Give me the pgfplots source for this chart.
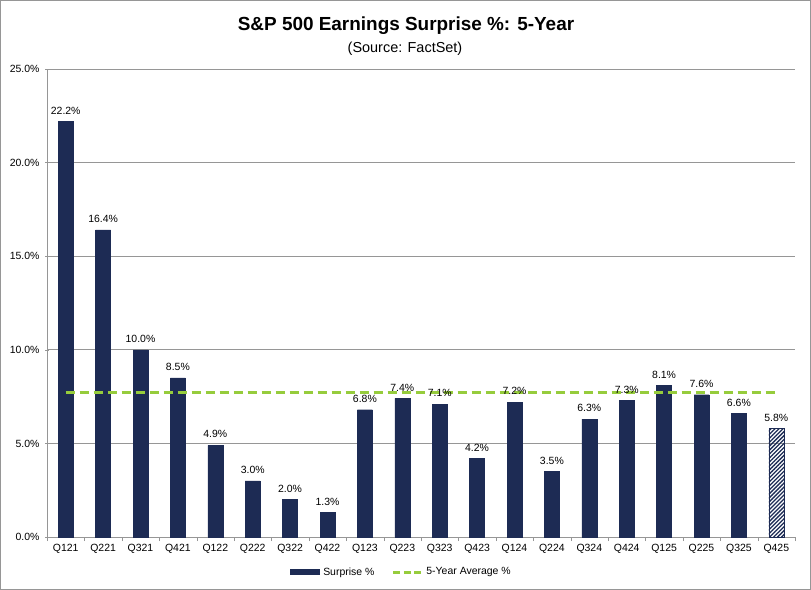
\documentclass[border=0pt]{standalone}
\usepackage{pgfplots}
\pgfplotsset{compat=1.18}
\usepackage{fontspec}
\setmainfont{Liberation Sans}
\usetikzlibrary{patterns.meta}
\definecolor{navy}{RGB}{29,43,84}
\definecolor{lime}{RGB}{150,204,60}
\definecolor{gridc}{RGB}{150,150,150}
\begin{document}
\begin{tikzpicture}
\useasboundingbox (0bp,0bp) rectangle (811bp,590bp);
\draw[gridc, line width=1bp] (0.5bp,0.5bp) rectangle (810.5bp,589.5bp);
\node[font=\fontsize{19}{21}\selectfont\bfseries] at (406bp,564bp) {S\&P 500 Earnings Surprise \%: 5-Year};
\node[font=\fontsize{14.5}{16}\selectfont] at (405bp,541bp) {(Source: FactSet)};
\begin{axis}[
  at={(47bp,53bp)}, anchor=south west,
  scale only axis, width=748bp, height=468bp,
  xmin=-0.5, xmax=19.5, ymin=0, ymax=25,
  ytick={0,5,...,25},
  yticklabel={\pgfmathprintnumber[fixed,fixed zerofill,precision=1]{\tick}\%},
  /pgf/number format/assume math mode=true,
  xtick={0,...,19},
  xticklabels={Q121,Q221,Q321,Q421,Q122,Q222,Q322,Q422,Q123,Q223,Q323,Q423,Q124,Q224,Q324,Q424,Q125,Q225,Q325,Q425},
  xtick style={draw=none},
  extra x ticks={-0.5,0.5,...,19.5},
  extra x tick labels={},
  extra x tick style={grid=none, major tick length=4bp, tick align=outside, xtick style={draw=gridc}},
  ytick style={draw=gridc},
  major tick length=4bp, tick align=outside,
  axis x line=bottom, axis y line=left,
  axis line style={-, gridc},
  ymajorgrids, grid style={gridc, line width=0.8bp},
  tick label style={font=\fontsize{10.5}{12}\selectfont, text=black},
  yticklabel style={xshift=-2bp},
  ybar, bar width=15bp,
  nodes near coords={\pgfmathprintnumber[fixed,fixed zerofill,precision=1]{\pgfplotspointmeta}\%},
  nodes near coords style={font=\fontsize{10.5}{12}\selectfont, anchor=south, inner sep=0pt, yshift=7bp, text=black},
  legend style={at={(0.475,-0.075)}, anchor=center, draw=none, legend columns=2,
    font=\fontsize{10.5}{12}\selectfont,
    /tikz/every even column/.append style={column sep=14bp},
    nodes={inner sep=3.5bp}},
  legend cell align=left,
  clip=false,
]
\addplot[fill=navy, draw=navy, bar shift=0pt,
  legend image code/.code={\fill[navy] (0bp,-2.5bp) rectangle (29bp,2.5bp);}]
  coordinates {(0,22.2) (1,16.4) (2,10.0) (3,8.5) (4,4.9) (5,3.0) (6,2.0) (7,1.3) (8,6.8) (9,7.4) (10,7.1) (11,4.2) (12,7.2) (13,3.5) (14,6.3) (15,7.3) (16,8.1) (17,7.6) (18,6.6)};
\addlegendentry{Surprise \%}
\addplot[draw=navy, bar shift=0pt, pattern={Lines[angle=45,distance=2.8bp,line width=1.3bp]}, pattern color=navy, forget plot]
  coordinates {(19,5.8)};
\addplot[sharp plot, color=lime, line width=3.2bp, dash pattern=on 9bp off 5bp, nodes near coords={}, mark=none,
  legend image code/.code={\draw[lime, line width=3bp, dash pattern=on 7bp off 3.5bp] (0bp,0bp) -- (28bp,0bp);}]
  coordinates {(0,7.7) (19,7.7)};
\addlegendentry{5-Year Average \%}
\end{axis}
\end{tikzpicture}
\end{document}
